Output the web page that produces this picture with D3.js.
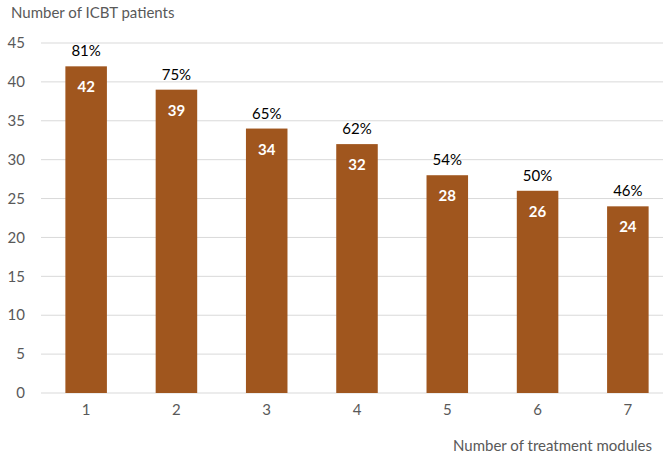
<!DOCTYPE html>
<html>
<head>
<meta charset="utf-8">
<script src="https://cdn.jsdelivr.net/npm/d3@7"></script>
<style>
  html, body { margin: 0; padding: 0; background: #fff; }
  svg { display: block; font-family: Lato, "Open Sans", sans-serif; }
</style>
</head>
<body>
<svg id="chart" width="663" height="456"></svg>
<script>
// Patients per number of completed treatment modules
const modules = ["1", "2", "3", "4", "5", "6", "7"];
const patients = [42, 39, 34, 32, 28, 26, 24];
const percents = ["81%", "75%", "65%", "62%", "54%", "50%", "46%"];
const yTicks = [0, 5, 10, 15, 20, 25, 30, 35, 40, 45];

const svg = d3.select("#chart");
const W = 663, H = 456;
const plot = { left: 41, right: 673, top: 43, bottom: 393 };

const x = d3.scaleBand().domain(modules).range([plot.left, plot.right]).paddingInner(0.54).paddingOuter(0.27);
const y = d3.scaleLinear().domain([0, 45]).range([plot.bottom, plot.top]);

// Horizontal gridlines
svg.append("g")
  .selectAll("line")
  .data(yTicks)
  .join("line")
  .attr("x1", plot.left)
  .attr("x2", W)
  .attr("y1", d => y(d))
  .attr("y2", d => y(d))
  .attr("stroke", "#d9d9d9")
  .attr("stroke-width", 1);

// Y tick labels
svg.append("g")
  .selectAll("text")
  .data(yTicks)
  .join("text")
  .attr("x", 25)
  .attr("y", d => y(d))
  .attr("dy", "0.35em")
  .attr("text-anchor", "end")
  .attr("font-size", 15)
  .attr("fill", "#595959")
  .text(d => d);

// Bars
svg.append("g")
  .selectAll("rect")
  .data(patients)
  .join("rect")
  .attr("x", (d, i) => x(modules[i]))
  .attr("width", x.bandwidth())
  .attr("y", d => y(d))
  .attr("height", d => y(0) - y(d))
  .attr("fill", "#A0561E");

// Counts inside bars
svg.append("g")
  .selectAll("text")
  .data(patients)
  .join("text")
  .attr("x", (d, i) => x(modules[i]) + x.bandwidth() / 2)
  .attr("y", d => y(d) + 26)
  .attr("text-anchor", "middle")
  .attr("font-size", 15)
  .attr("font-weight", "bold")
  .attr("fill", "#fff")
  .text(d => d);

// Percentages above bars
svg.append("g")
  .selectAll("text")
  .data(patients)
  .join("text")
  .attr("x", (d, i) => x(modules[i]) + x.bandwidth() / 2)
  .attr("y", d => y(d) - 10)
  .attr("text-anchor", "middle")
  .attr("font-size", 15)
  .attr("fill", "#000")
  .text((d, i) => percents[i]);

// X tick labels
svg.append("g")
  .selectAll("text")
  .data(modules)
  .join("text")
  .attr("x", d => x(d) + x.bandwidth() / 2)
  .attr("y", 415)
  .attr("text-anchor", "middle")
  .attr("font-size", 15)
  .attr("fill", "#595959")
  .text(d => d);

// Axis titles
svg.append("text")
  .attr("x", 11)
  .attr("y", 18)
  .attr("font-size", 15)
  .attr("fill", "#595959")
  .text("Number of ICBT patients");

svg.append("text")
  .attr("x", 652)
  .attr("y", 451)
  .attr("text-anchor", "end")
  .attr("font-size", 15)
  .attr("fill", "#595959")
  .text("Number of treatment modules");
</script>
</body>
</html>
